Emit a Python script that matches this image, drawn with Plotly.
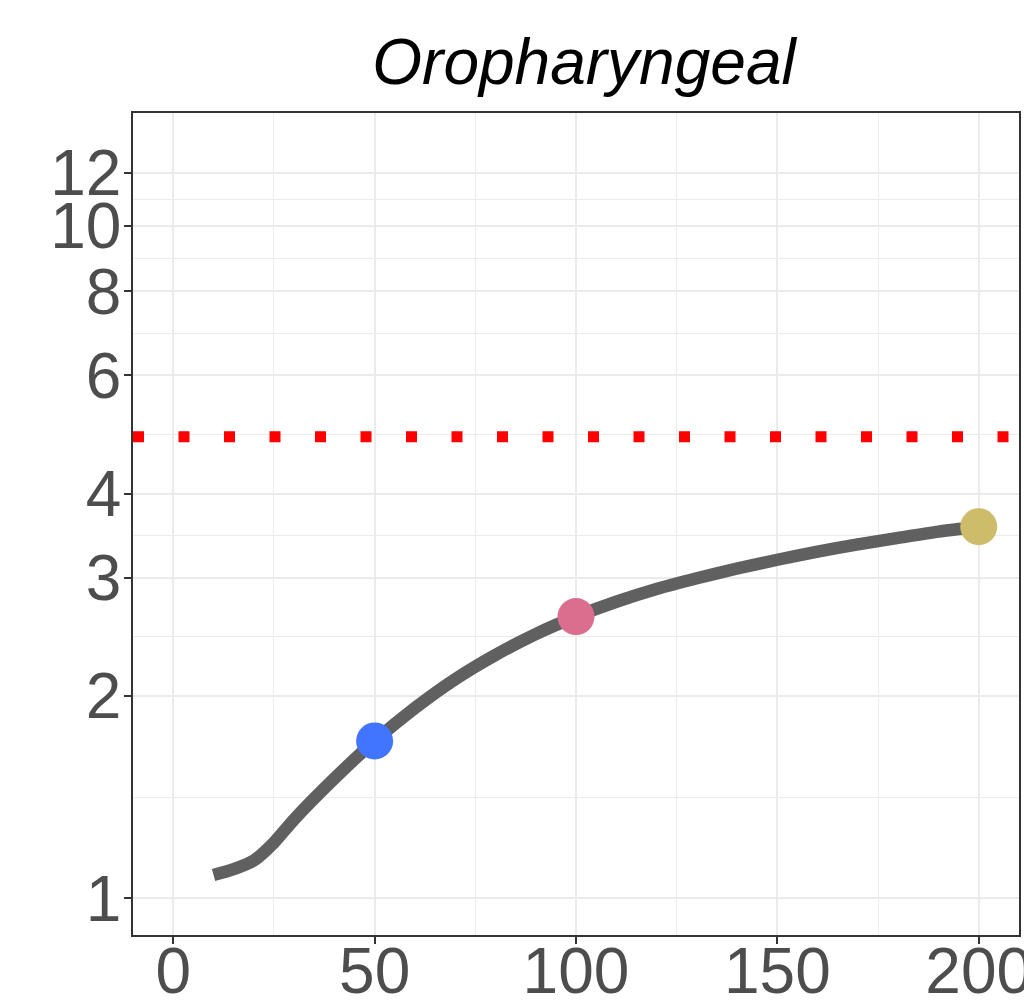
import plotly.graph_objects as go

# ---- data ----
curve_x = [10, 15, 20, 25, 30, 40, 50, 60, 70, 80, 90, 100, 110, 120,
           130, 140, 150, 160, 170, 180, 190, 200]
curve_y = [1.083, 1.105, 1.138, 1.21, 1.310, 1.507, 1.714, 1.919, 2.118, 2.301,
           2.472, 2.624, 2.761, 2.884, 2.992, 3.094, 3.188, 3.277, 3.361, 3.436,
           3.511, 3.57]

point_x = [50, 100, 200]
point_y = [1.714, 2.624, 3.57]
point_colors = ["#4174FF", "#DB6E8F", "#CDBC6A"]

threshold = 4.86

x_ticks = [0, 50, 100, 150, 200]
x_minor = [25, 75, 125, 175]
y_ticks = [1, 2, 3, 4, 6, 8, 10, 12]
y_ticktext = ["1", "2", "3", "4", "6", "8", "10", "12"]
y_minor = [1.4142, 2.4495, 3.4641, 4.899, 6.928, 8.944, 10.954]

title_text = "Oropharyngeal"

FONT = "Liberation Sans, Arial, Helvetica, sans-serif"

fig = go.Figure()

fig.add_trace(go.Scatter(
    x=curve_x, y=curve_y, mode="lines",
    line=dict(color="#606060", width=12.5, shape="spline", smoothing=0.7),
    hoverinfo="skip", showlegend=False,
))

fig.add_trace(go.Scatter(
    x=point_x, y=point_y, mode="markers",
    marker=dict(color=point_colors, size=37, line=dict(width=0)),
    showlegend=False,
))

fig.add_hline(y=threshold, line=dict(color="#FF0000", width=11, dash="11px,34.5px"))

fig.update_layout(
    width=1024, height=1008,
    margin=dict(l=133, r=5, t=113, b=73, autoexpand=False),
    paper_bgcolor="white", plot_bgcolor="white",
    title=dict(
        text="<i>" + title_text + "</i>",
        font=dict(family=FONT, size=64, color="black"),
        x=0.5 + 8 / 886, xref="paper", xanchor="center",
        y=1 - 62 / 1008, yref="container", yanchor="middle",
    ),
    xaxis=dict(
        range=[-10, 210],
        tickvals=x_ticks, ticktext=[str(v) for v in x_ticks],
        ticks="outside", ticklen=7, tickwidth=2, tickcolor="#333333",
        ticklabelstandoff=-28, ticklabeloverflow="allow",
        tickfont=dict(family=FONT, size=64, color="#4D4D4D"),
        showgrid=True, gridcolor="#EBEBEB", gridwidth=2,
        minor=dict(tickvals=x_minor, showgrid=True, gridcolor="#EBEBEB",
                   gridwidth=1, ticks=""),
        showline=True, linecolor="#333333", linewidth=1.5, mirror=True,
        zeroline=False, automargin=False,
    ),
    yaxis=dict(
        type="log",
        range=[-0.0546, 1.168],
        tickvals=y_ticks, ticktext=y_ticktext,
        ticks="outside", ticklen=7, tickwidth=2, tickcolor="#333333",
        ticklabelstandoff=-10,
        tickfont=dict(family=FONT, size=64, color="#4D4D4D"),
        showgrid=True, gridcolor="#EBEBEB", gridwidth=2,
        minor=dict(tickvals=y_minor, showgrid=True, gridcolor="#EBEBEB",
                   gridwidth=1, ticks=""),
        showline=True, linecolor="#333333", linewidth=1.5, mirror=True,
        zeroline=False, automargin=False,
    ),
)

fig.write_html("out.html")
